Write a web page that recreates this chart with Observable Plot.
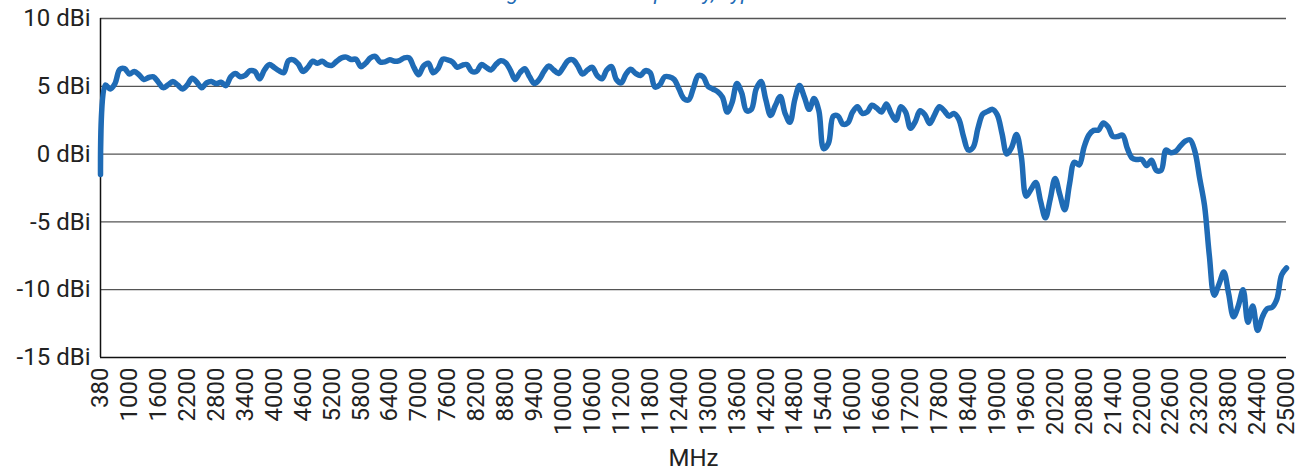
<!DOCTYPE html>
<html>
<head>
<meta charset="utf-8">
<script src="https://cdn.jsdelivr.net/npm/d3@7"></script>
<script src="https://cdn.jsdelivr.net/npm/@observablehq/plot@0.6"></script>
<style>
  html, body { margin: 0; padding: 0; background: #fff; }
  #wrap { position: relative; width: 1311px; height: 472px; overflow: hidden; font-family: Roboto, sans-serif; }
  #title { position: absolute; top: -18px; left: 0; width: 1300px; text-align: center; font-size: 21px; line-height: 22px; font-style: italic; color: #1f6bb5; white-space: nowrap; z-index: 2; }
  #chart { position: absolute; top: 0; left: 0; }
</style>
</head>
<body>
<div id="wrap">
  <div id="chart"></div>
  <div id="title">Boresight Gain vs. Frequency, Typical Values</div>
</div>
<script>
const freqs = [380,
  500,600,700,800,900,1000,1100,1200,1300,1400,1500,1600,1700,1800,1900,2000,2100,2200,2300,2400,
  2500,2600,2700,2800,2900,3000,3100,3200,3300,3400,3500,3600,3700,3800,3900,4000,4100,4200,4300,4400,
  4500,4600,4700,4800,4900,5000,5100,5200,5300,5400,5500,5600,5700,5800,5900,6000,6100,6200,6300,6400,
  6500,6600,6700,6800,6900,7000,7100,7200,7300,7400,7500,7600,7700,7800,7900,8000,8100,8200,8300,8400,
  8500,8600,8700,8800,8900,9000,9100,9200,9300,9400,9500,9600,9700,9800,9900,10000,10100,10200,10300,10400,
  10500,10600,10700,10800,10900,11000,11100,11200,11300,11400,11500,11600,11700,11800,11900,12000,12100,12200,12300,12400,
  12500,12600,12700,12800,12900,13000,13100,13200,13300,13400,13500,13600,13700,13800,13900,14000,14100,14200,14300,14400,
  14500,14600,14700,14800,14900,15000,15100,15200,15300,15400,15500,15600,15700,15800,15900,16000,16100,16200,16300,16400,
  16500,16600,16700,16800,16900,17000,17100,17200,17300,17400,17500,17600,17700,17800,17900,18000,18100,18200,18300,18400,
  18500,18600,18700,18800,18900,19000,19100,19200,19300,19400,19500,19600,19700,19800,19900,20000,20100,20200,20300,20400,
  20500,20600,20700,20800,20900,21000,21100,21200,21300,21400,21500,21600,21700,21800,21900,22000,22100,22200,22300,22400,
  22500,22600,22700,22800,22900,23000,23100,23200,23300,23400,23500,23600,23700,23800,23900,24000,24100,24200,24300,24400,
  24500,24600,24700,24800,24900,25000];

const gains = [
  -1.5, 5.1, 4.8, 5.2, 6.25, 6.3, 5.9, 6.1, 5.85, 5.5,
  5.65, 5.7, 5.3, 4.9, 5.1, 5.35, 5.1, 4.8, 5.1, 5.6,
  5.3, 4.9, 5.25, 5.35, 5.2, 5.3, 5.05, 5.7, 5.95, 5.7,
  5.8, 6.15, 6.1, 5.55, 6.2, 6.6, 6.4, 6.15, 6.0, 6.9,
  6.95, 6.65, 6.1, 6.4, 6.85, 6.7, 6.85, 6.6, 6.55, 6.85,
  7.1, 7.15, 6.98, 7.0, 6.45, 6.7, 7.1, 7.2, 6.8, 6.8,
  6.95, 6.85, 6.9, 7.1, 7.1, 6.4, 5.85, 6.5, 6.7, 6.0,
  6.3, 7.0, 6.95, 6.8, 6.4, 6.55, 6.6, 6.1, 6.1, 6.6,
  6.4, 6.2, 6.6, 6.88, 6.75, 6.2, 5.5, 6.0, 6.3, 5.7,
  5.2, 5.5, 6.1, 6.5, 6.2, 5.95, 6.4, 6.9, 6.95, 6.5,
  5.9, 6.2, 6.4, 5.8, 5.55, 6.2, 6.45, 5.5, 5.25, 5.9,
  6.25, 5.95, 5.8, 6.15, 6.0, 4.95, 5.1, 5.7, 5.7, 5.5,
  4.8, 4.1, 4.0, 4.9, 5.8, 5.7, 5.0, 4.8, 4.6, 4.2,
  3.1, 3.8, 5.2, 4.5, 3.2, 3.3, 4.8, 5.35, 4.0, 2.85,
  3.6, 4.25, 3.0, 2.35, 4.0, 5.05, 4.2, 3.3, 4.1, 3.2,
  0.4, 0.8, 2.8, 2.8, 2.2, 2.3, 3.1, 3.5, 3.0, 3.1,
  3.6, 3.4, 3.1, 3.7, 3.0, 2.5, 3.5, 3.1, 1.9, 2.4,
  3.2, 2.9, 2.26, 2.9, 3.5, 3.2, 2.8, 3.0, 2.6, 1.3,
  0.3, 0.5, 1.9, 2.95, 3.15, 3.3, 2.9, 1.5, 0.0, 0.5,
  1.45, -0.2, -3.1, -2.6, -2.1, -3.5, -4.7, -3.3, -1.8, -3.0,
  -4.1, -2.2, -0.6, -0.8, 0.5, 1.4, 1.75, 1.77, 2.3, 2.0,
  1.3, 1.3, 1.4, 0.4, -0.3, -0.4, -0.4, -0.85, -0.45, -1.2,
  -1.2, 0.3, 0.1, 0.2, 0.6, 0.95, 1.05, 0.2, -1.8, -3.8,
  -7.5, -10.4, -9.6, -8.7, -10.3, -12.0, -11.2, -10.0, -12.4, -11.2,
  -13.0, -12.0, -11.4, -11.3, -10.7, -8.9, -8.4
];

const xTickLabels = [380,1000,1600,2200,2800,3400,4000,4600,5200,5800,6400,7000,7600,8200,8800,9400,
  10000,10600,11200,11800,12400,13000,13600,14200,14800,15400,16000,16600,17200,17800,18400,19000,
  19600,20200,20800,21400,22000,22600,23200,23800,24400,25000];

const yTickValues = [-15, -10, -5, 0, 5, 10];

const data = freqs.map((f, i) => ({ f, g: gains[i] }));

const chart = Plot.plot({
  width: 1311,
  height: 472,
  marginLeft: 100,
  marginRight: 25,
  marginTop: 18,
  marginBottom: 115,
  style: { fontFamily: "Roboto, sans-serif", fontSize: "24px", color: "#222", background: "#fff", overflow: "visible" },
  x: {
    type: "point", domain: freqs, padding: 0,
    ticks: xTickLabels, tickFormat: d => String(d), tickSize: 0, tickPadding: 10, tickRotate: -90,
    label: "MHz", labelAnchor: "center", labelOffset: 108
  },
  y: {
    domain: [-15, 10], ticks: yTickValues, tickFormat: d => `${d} dBi`,
    tickSize: 0, tickPadding: 10, label: null
  },
  marks: [
    Plot.ruleY(yTickValues.slice(1), { stroke: "#555", strokeWidth: 1.3 }),
    Plot.ruleY([-15], { stroke: "#111", strokeWidth: 1.5 }),
    Plot.ruleX([freqs[0]], { stroke: "#111", strokeWidth: 1.5 }),
    Plot.line(data, { x: "f", y: "g", stroke: "#1f6bb5", strokeWidth: 5.5, curve: "catmull-rom", strokeLinejoin: "round", strokeLinecap: "round" })
  ]
});
document.getElementById("chart").appendChild(chart);
</script>
</body>
</html>
